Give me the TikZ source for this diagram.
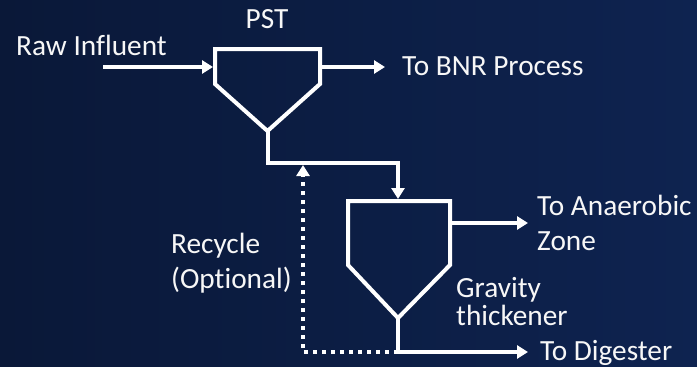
\documentclass[tikz,border=0pt]{standalone}
\usepackage{fontspec}
\setmainfont{Carlito}[Ligatures={NoCommon}]
\usetikzlibrary{arrows.meta}
\definecolor{bgleft}{HTML}{0A1838}
\definecolor{bgright}{HTML}{0E2350}
\tikzset{
  pipe/.style={draw=white, line width=4pt, line join=miter},
  flow/.style={pipe, -{Triangle[length=11pt,width=13pt]}},
  tank/.style={draw=white, line width=4pt, line join=miter},
  recyc/.style={draw=white, line width=4pt, dash pattern=on 4pt off 5pt, -{Triangle[length=11pt,width=13pt]}},
  lbl/.style={text=white!94!gray, inner sep=0pt, anchor=base west, font=\fontsize{29.3}{32}\selectfont, align=left},
}
\begin{document}
\begin{tikzpicture}[x=1pt, y=-1pt]
  \shade[left color=bgleft, right color=bgright] (0,0) rectangle (697,367);
  \useasboundingbox (0,0) rectangle (697,367);

  % PST tank
  \coordinate (p1) at (215,49);
  \coordinate (p2) at (320,49);
  \coordinate (p3) at (320,84);
  \coordinate (pApex) at (267.5,131);
  \coordinate (p5) at (215,84);
  \draw[tank] (p1) -- (p2) -- (p3) -- (pApex) -- (p5) -- cycle;
  \coordinate (pIn) at (213,67);
  \coordinate (pOut) at (322,67);

  % Gravity thickener
  \coordinate (g1) at (348,201);
  \coordinate (g2) at (450,201);
  \coordinate (g3) at (450,265);
  \coordinate (gApex) at (398,318);
  \coordinate (g5) at (348,265);
  \draw[tank] (g1) -- (g2) -- (g3) -- (gApex) -- (g5) -- cycle;
  \coordinate (gTop) at (398,199);
  \coordinate (gOut) at (452,223);

  % free ends
  \coordinate (rawStart) at (103,67);
  \coordinate (bnrEnd) at (385,67);
  \coordinate (anaEnd) at (528,223);
  \coordinate (pBend) at (267.5,163);
  \coordinate (gBend) at (398,163);
  \coordinate (dBend) at (398,352);
  \coordinate (digEnd) at (528,352);
  \coordinate (rCorner) at (303,352);
  \coordinate (rEnd) at (303,165);

  % connectors
  \draw[flow] (rawStart) -- (pIn);
  \draw[flow] (pOut) -- (bnrEnd);
  \draw[flow] (pApex) -- (pBend) -- (gBend) -- (gTop);
  \draw[flow] (gOut) -- (anaEnd);
  \draw[flow] (gApex) -- (dBend) -- (digEnd);
  \draw[recyc] (dBend) -- (rCorner) -- (rEnd);

  % labels
  \node[lbl, anchor=base] (pst) at (267,28) {PST};
  \node[lbl] (raw) at (16,55) {Raw Influent};
  \node[lbl] (bnr) at (402,75) {To BNR Process};
  \node[lbl] (ana) at (537,215) {To Anaerobic};
  \node[lbl] (zone) at (537,250) {Zone};
  \node[lbl] (grav) at (456,297) {Gravity};
  \node[lbl] (thick) at (456,325) {thickener};
  \node[lbl] (dig) at (540,360) {To Digester};
  \node[lbl] (rec) at (171,253) {Recycle};
  \node[lbl] (opt) at (171,288) {(Optional)};
\end{tikzpicture}
\end{document}
